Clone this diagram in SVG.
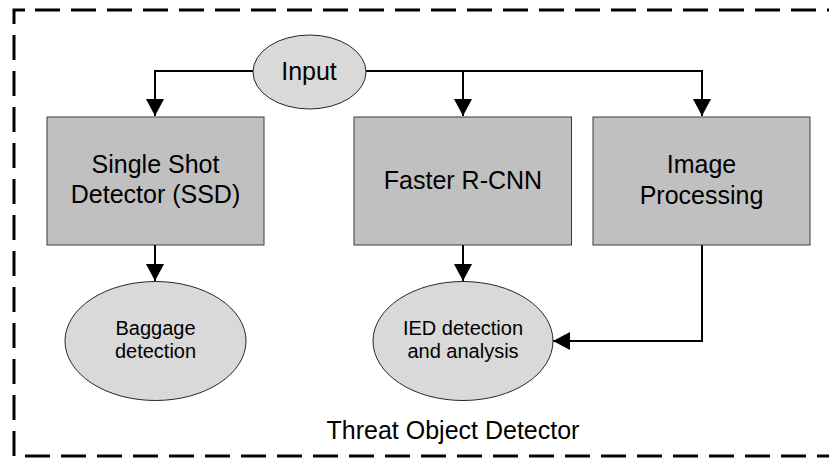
<svg xmlns="http://www.w3.org/2000/svg" width="829" height="458" viewBox="0 0 829 458">
  <style>
    .box { fill: #c0c0c0; stroke: #3a3a3a; stroke-width: 1; }
    .ell { fill: #d9d9d9; stroke: #262626; stroke-width: 1; }
    .lbl { font-family: "Liberation Sans", Arial, sans-serif; font-size: 25px; fill: #000; text-anchor: middle; }
    .sm { font-family: "Liberation Sans", Arial, sans-serif; font-size: 20px; fill: #000; text-anchor: middle; }
    .con { fill: none; stroke: #000; stroke-width: 2; }
    .frame { fill: none; stroke: #000; stroke-width: 3; stroke-dasharray: 25 11; }
  </style>
  <defs>
    <marker id="arr" markerUnits="userSpaceOnUse" markerWidth="18" markerHeight="18" viewBox="0 0 18 18" refX="17" refY="9" orient="auto">
      <path d="M0,0 L17,9 L0,18 Z" fill="#000"/>
    </marker>
  </defs>

  <g id="frame">
    <path class="frame" d="M 25 10 H 14 V 456 H 840"/>
    <path class="frame" d="M 35 10 H 840"/>
    <text class="lbl" x="453" y="439">Threat Object Detector</text>
  </g>

  <g id="connectors">
    <path class="con" d="M 253 71 H 155 V 116" marker-end="url(#arr)"/>
    <path class="con" d="M 366 71 H 702 V 116" marker-end="url(#arr)"/>
    <path class="con" d="M 463 71 V 116" marker-end="url(#arr)"/>
    <path class="con" d="M 155 245 V 281" marker-end="url(#arr)"/>
    <path class="con" d="M 463 245 V 281" marker-end="url(#arr)"/>
    <path class="con" d="M 702 245 V 341 H 553" marker-end="url(#arr)"/>
  </g>

  <g id="input">
    <ellipse class="ell" cx="309.5" cy="72" rx="56.5" ry="37"/>
    <text class="lbl" x="309" y="80">Input</text>
  </g>

  <g id="ssd">
    <rect class="box" x="47" y="117" width="217" height="128"/>
    <text class="lbl" x="155.5" y="173">Single Shot</text>
    <text class="lbl" x="155.5" y="203">Detector (SSD)</text>
  </g>

  <g id="faster-rcnn">
    <rect class="box" x="354" y="117" width="217.5" height="128"/>
    <text class="lbl" x="463" y="189">Faster R-CNN</text>
  </g>

  <g id="image-processing">
    <rect class="box" x="593" y="117" width="217" height="128"/>
    <text class="lbl" x="701.5" y="173">Image</text>
    <text class="lbl" x="701.5" y="204">Processing</text>
  </g>

  <g id="baggage">
    <ellipse class="ell" cx="155.5" cy="341" rx="90.5" ry="59.5"/>
    <text class="sm" x="155.5" y="335">Baggage</text>
    <text class="sm" x="155.5" y="358">detection</text>
  </g>

  <g id="ied">
    <ellipse class="ell" cx="463" cy="341" rx="90" ry="59.5"/>
    <text class="sm" x="463" y="335">IED detection</text>
    <text class="sm" x="463" y="358">and analysis</text>
  </g>
</svg>
